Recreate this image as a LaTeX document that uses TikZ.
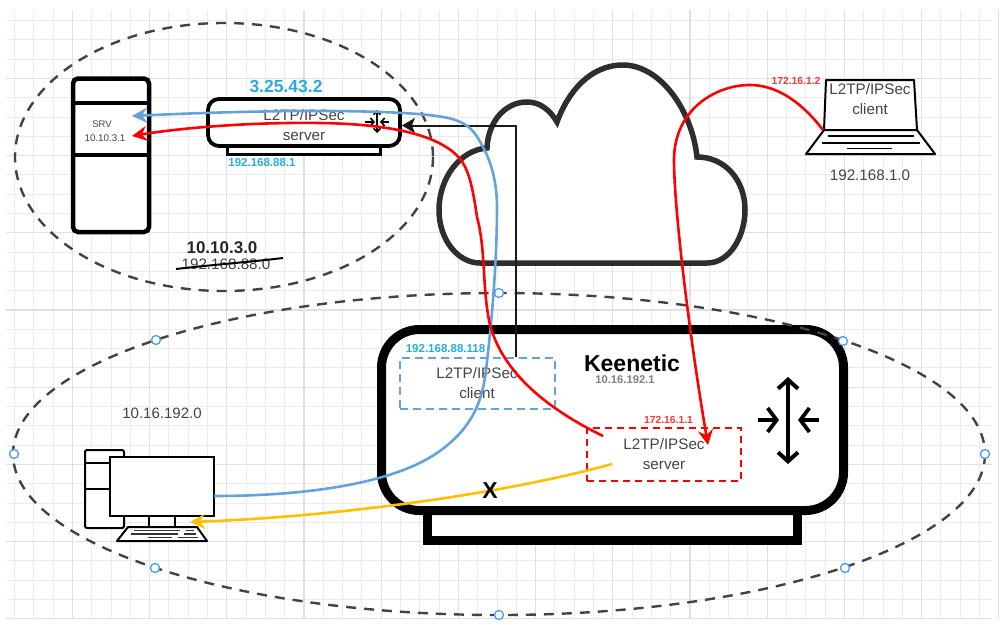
\documentclass[tikz,border=0pt]{standalone}
\usepackage{fontspec}
\setmainfont{Liberation Sans}
\usetikzlibrary{arrows.meta}
\definecolor{gmin}{HTML}{ECECEC}
\definecolor{gmaj}{HTML}{E0E0E0}
\definecolor{bluel}{HTML}{64A2DA}
\definecolor{cyant}{HTML}{29ABE2}
\definecolor{handle}{HTML}{4A9BEF}
\definecolor{txt}{HTML}{444444}
\definecolor{yel}{HTML}{FFC000}
\definecolor{cloudc}{HTML}{2E2E2E}
\tikzset{
  x=1pt,y=-1pt,
  dash ell/.style={draw=cloudc!90!white,line width=2.4pt,dash pattern=on 10pt off 8pt},
  tx/.style={text=txt,font=\fontsize{15.2}{17}\selectfont,align=center,inner sep=0pt},
  redline/.style={draw=red,line width=2.6pt},
  blueline/.style={draw=bluel,line width=2.6pt},
  handlept/.style={circle,draw=handle,fill=white,line width=1.3pt,minimum size=9pt,inner sep=0pt},
  icon/.style={draw=black,line width=2pt},
  flowtip/.style={-{Stealth[length=15pt,width=15pt,inset=5pt]}},
  smallbarb/.style={{Straight Barb[length=3.5pt,width=7pt]}-{Straight Barb[length=3.5pt,width=7pt]}},
  smallhead/.style={-{Straight Barb[length=3.5pt,width=8pt]}},
  bigbarb/.style={{Straight Barb[length=9pt,width=20pt]}-{Straight Barb[length=9pt,width=20pt]}},
  bighead/.style={-{Straight Barb[length=9pt,width=24pt]}},
}
\begin{document}
\begin{tikzpicture}
\useasboundingbox (0,0) rectangle (1000,624);
\fill[white] (0,0) rectangle (1000,624);
% grid
\foreach \i in {0,...,50}{\draw[gmin,line width=1pt] ({14.5+19.3*\i},10) -- ({14.5+19.3*\i},618);}
\foreach \j in {0,...,31}{\draw[gmin,line width=1pt] (6,{20.5+19.3*\j}) -- (992,{20.5+19.3*\j});}
\foreach \i in {0,...,12}{\draw[gmaj,line width=1.3pt] ({72.4+77.2*\i},10) -- ({72.4+77.2*\i},618);}
\foreach \j in {0,...,7}{\draw[gmaj,line width=1.3pt] (6,{78.4+77.2*\j}) -- (992,{78.4+77.2*\j});}
% top ellipse
\draw[dash ell] (224,157) ellipse [x radius=209,y radius=134];
% cloud
\draw[draw=cloudc,fill=white,line width=5.5pt,miter limit=10]
  (480,263) -- (707,263)
  .. controls (730,263) and (745,236) .. (745,210)
  .. controls (745,180) and (725,157) .. (697,157)
  .. controls (692,110) and (660,65) .. (623,65)
  .. controls (590,65) and (568,92) .. (557,122)
  .. controls (550,110) and (540,102) .. (527,102)
  .. controls (505,102) and (488,122) .. (487,148)
  .. controls (460,150) and (439,178) .. (439,210)
  .. controls (439,240) and (458,263) .. (480,263) -- cycle;
% server tower
\draw[draw=black,fill=white,line width=4.5pt,rounded corners=5pt] (73,78.5) rectangle (149,232);
\draw[black,line width=4pt] (73,103) -- (149,103);
\draw[black,line width=4pt] (73,155) -- (149,155);
\node[text=txt,font=\fontsize{9.5}{10}\selectfont,inner sep=0pt] (srvl) at (102,124) {SRV};
\node[text=txt,font=\fontsize{9.8}{10}\selectfont,inner sep=0pt] (srvip) at (105,138) {10.10.3.1};
% small router
\draw[draw=black,line width=3pt,fill=white] (227.5,146) rectangle (380.5,154);
\node[draw=black,fill=white,line width=3.8pt,rounded corners=11pt,minimum width=192pt,minimum height=47pt,inner sep=0pt] (srt) at (304,122.5) {};
\node[tx] (srtl) at (304,125.5) {L2TP/IPSec\\[3pt]server};
\draw[black,line width=1.7pt,smallbarb] (377,110) -- (377,133);
\draw[black,line width=1.7pt,smallhead] (365,122) -- (375,122);
\draw[black,line width=1.7pt,smallhead] (389,122) -- (380,122);
% laptop
\draw[icon,fill=white,line join=round] (826,80) -- (914,80) -- (917,130) -- (824,130) -- cycle;
\draw[icon,fill=white,line join=round] (824,130) -- (917,130) -- (935,154) -- (806,154) -- cycle;
\draw[black,line width=1.8pt] (828,136) -- (914,136);
\draw[black,line width=1.8pt] (822,143) -- (920,143);
\draw[black,line width=1.8pt] (847,148.5) -- (892,148.5);
\node[tx] (lapl) at (870,99.5) {L2TP/IPSec\\[3pt]client};
\node[tx] (lapn) at (870,175) {192.168.1.0};
% main router
\draw[draw=black,fill=white,line width=9pt] (427.5,500) rectangle (797.5,540.5);
\node[draw=black,fill=white,line width=9pt,rounded corners=38pt,minimum width=462pt,minimum height=181pt,inner sep=0pt] (kee) at (612.5,420) {};
\node[font=\bfseries\fontsize{23}{26}\selectfont,text=black,inner sep=0pt] (keen) at (632,363) {Keenetic};
\node[font=\bfseries\fontsize{11.2}{12}\selectfont,text=black!50,inner sep=0pt] (keeip) at (625,380) {10.16.192.1};
% router arrows
\draw[black,line width=4pt,bigbarb] (788,377) -- (788,464);
\draw[black,line width=3.8pt,bighead] (758,420) -- (779,420);
\draw[black,line width=3.8pt,bighead] (819,420) -- (798,420);
% client box
\node[draw=bluel,line width=2.6pt,dash pattern=on 8pt off 5pt,minimum width=155pt,minimum height=51pt,inner sep=0pt] (cli) at (477.5,383.5) {};
\node[tx] (clil) at (477,383) {L2TP/IPSec\\[3pt]client};
\node[font=\bfseries\fontsize{11.5}{12}\selectfont,text=cyant,inner sep=0pt] (cliip) at (445.5,349) {192.168.88.118};
% server box
\node[draw=red,line width=2.6pt,dash pattern=on 7pt off 5pt,minimum width=154pt,minimum height=53pt,inner sep=0pt] (sv) at (664,454.5) {};
\node[tx] (svl) at (664,454.5) {L2TP/IPSec\\[3pt]server};
\node[font=\bfseries\fontsize{10.3}{11}\selectfont,text=red!80!white,inner sep=0pt] (svip) at (668.5,420) {172.16.1.1};
% lower ellipse
\draw[dash ell] (499,454) ellipse [x radius=486,y radius=161];
% black connector
\coordinate (cliTop) at (516,357);
\coordinate (cloudCorner) at (516,125.5);
\draw[black!90,line width=2pt,-{Stealth[length=13pt,width=15pt,inset=3pt]}] (cliTop) -- (cloudCorner) -- (cloudCorner -| srt.east);
% labels
\node[font=\bfseries\fontsize{17.5}{19}\selectfont,text=cyant,inner sep=0pt] (pub) at (286,86) {3.25.43.2};
\node[font=\bfseries\fontsize{11.5}{12}\selectfont,text=cyant,inner sep=0pt] (lanip) at (262,163) {192.168.88.1};
\node[font=\bfseries\fontsize{17}{19}\selectfont,text=black!85,inner sep=0pt] (net1) at (222,248) {10.10.3.0};
\node[tx] (net2) at (226,264) {192.168.88.0};
\draw[black,line width=2pt] (176,269) .. controls (210,265) and (250,262) .. (283,258);
\node[text=txt,font=\fontsize{15}{16}\selectfont,inner sep=0pt] (net3) at (162,413) {10.16.192.0};
\node[font=\bfseries\fontsize{10.3}{11}\selectfont,text=red!80!white,inner sep=0pt] (lapip) at (796,81) {172.16.1.2};
% PC
\draw[icon,fill=white,rounded corners=2pt] (85,450) rectangle (124,528);
\draw[icon] (85,463) -- (110,463);
\draw[icon] (85,489) -- (110,489);
\draw[icon,fill=white] (110,457) rectangle (214,516);
\draw[icon,fill=white] (149,516) rectangle (175,527);
\draw[icon,fill=white,line join=round] (128,527) -- (197,527) -- (207,541) -- (117,541) -- cycle;
\draw[black!80,line width=1.8pt] (134,530.5) -- (180,530.5) (186,530.5) -- (194,530.5);
\draw[black!80,line width=1.8pt] (131,534) -- (178,534) (184,534) -- (196,534);
\draw[black!80,line width=1.8pt] (148,537.5) -- (172,537.5) (178,537.5) -- (198,537.5);
\coordinate (pcR) at (214,496);
\coordinate (pcK) at (190,522);
\coordinate (svA) at (603,436);
\coordinate (svB) at (612,464);
\coordinate (srvA) at (132,116);
\coordinate (srvB) at (132,136);
\coordinate (svT) at (708,445);
\coordinate (lapA) at (823,130);
% blue
\draw[blueline,flowtip] (pcR) .. controls (300,496) and (390,485) .. (437,453)
  .. controls (470,430) and (482,405) .. (486,370)
  .. controls (492,320) and (497,260) .. (497,207)
  .. controls (497,180) and (490,160) .. (483,147)
  .. controls (475,132) and (470,125) .. (455,120)
  .. controls (430,110) and (300,108) .. (srvA);
% red 1
\draw[redline,flowtip] (svA) .. controls (560,415) and (505,380) .. (490,325)
  .. controls (482,290) and (486,250) .. (477,217)
  .. controls (473,190) and (470,175) .. (463,163)
  .. controls (445,135) and (390,124) .. (320,123)
  .. controls (250,122) and (180,128) .. (srvB);
% red 2
\draw[redline,flowtip] (lapA) .. controls (800,100) and (775,85) .. (750,85)
  .. controls (715,85) and (674,110) .. (674,160)
  .. controls (674,210) and (690,340) .. (svT);
% yellow
\draw[draw=yel,line width=2.6pt,flowtip] (svB) .. controls (500,495) and (330,517) .. (pcK);
\node[font=\bfseries\fontsize{23}{24}\selectfont,text=black,inner sep=0pt] (xm) at (490,491) {X};
% handles
\foreach \n/\x/\y in {h1/499/293,h2/156/340,h3/843/341,h4/14/454,h5/985/454,h6/155/568,h7/845/568,h8/499/615}{
  \node[handlept] (\n) at (\x,\y) {};
}
\end{tikzpicture}
\end{document}
